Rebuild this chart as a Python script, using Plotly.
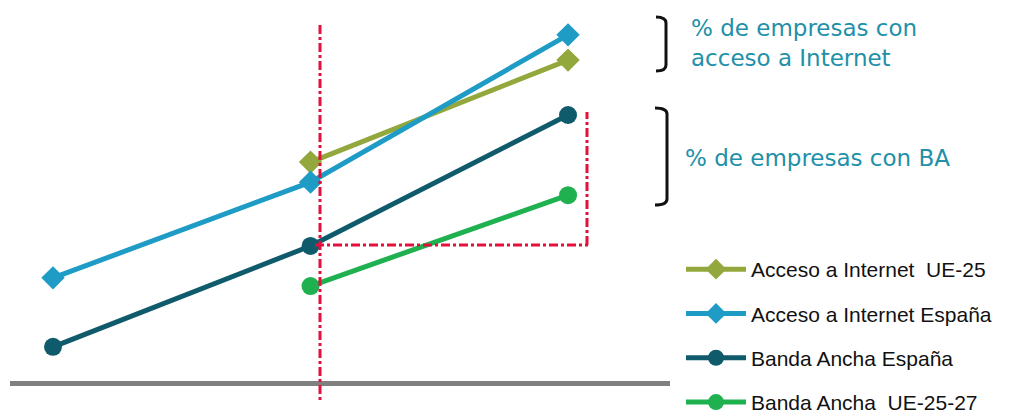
import plotly.graph_objects as go

# ---- data (schematic values) ----
periods = [2003, 2005, 2007]
internet_ue25 = [None, 59.0, 86.5]
internet_espana = [27.8, 53.6, 93.3]
banda_ancha_espana = [9.2, 36.4, 71.7]
banda_ancha_ue = [None, 25.6, 50.1]

series_names = ["Acceso a Internet  UE-25", "Acceso a Internet España",
                "Banda Ancha España", "Banda Ancha  UE-25-27"]

# page body has an 8px margin, so the figure is sized to what remains visible
OFF = 8
W, H = 1010 - OFF, 415 - OFF
X_L, X_R, Y_T, Y_B = 10, 670, 10, 381      # plot area in window pixels
ML, MR = X_L - OFF, W - (X_R - OFF)
MT, MB = Y_T - OFF, H - (Y_B - OFF)
PW, PH = X_R - X_L, Y_B - Y_T


def px(xw):
    return (xw - X_L) / PW


def py(yw):
    return (Y_B - yw) / PH


fig = go.Figure()
styles = [
    (internet_ue25, "#93a83c", "diamond"),
    (internet_espana, "#1e9cc6", "diamond"),
    (banda_ancha_espana, "#0f5b6c", "circle"),
    (banda_ancha_ue, "#1fb050", "circle"),
]
for i, (vals, col, sym) in enumerate(styles):
    fig.add_trace(go.Scatter(
        x=periods, y=vals, name=series_names[i], mode="lines+markers",
        line=dict(color=col, width=5),
        marker=dict(symbol=sym, size=18, color=col),
        legendgroup=f"g{i}", connectgaps=False,
    ))

red = "#e2103c"
shapes = [
    dict(type="line", xref="paper", yref="paper", x0=px(320), x1=px(320),
         y0=py(25), y1=py(400), line=dict(color=red, width=3, dash="dashdot")),
    dict(type="line", xref="paper", yref="paper", x0=px(315), x1=px(588),
         y0=py(245), y1=py(245), line=dict(color=red, width=3, dash="dashdot")),
    dict(type="line", xref="paper", yref="paper", x0=px(587), x1=px(587),
         y0=py(245), y1=py(112), line=dict(color=red, width=3, dash="dashdot")),
]


def bracket(xl, xr, yt, yb):
    return (f"M {px(xl)},{py(yt)} Q {px(xr)},{py(yt)} {px(xr)},{py(yt+6)} "
            f"L {px(xr)},{py(yb-6)} Q {px(xr)},{py(yb)} {px(xl)},{py(yb)}")


for (xl, xr, yt, yb) in [(656, 666, 17, 71), (655, 667, 108, 205)]:
    shapes.append(dict(type="path", xref="paper", yref="paper",
                       path=bracket(xl, xr, yt, yb),
                       line=dict(color="#111111", width=3)))

teal = "#2190a8"
annotations = [
    dict(xref="paper", yref="paper", x=px(689), y=py(43), xanchor="left",
         yanchor="middle", align="left", showarrow=False,
         text="% de empresas con<br>acceso a Internet",
         font=dict(family="DejaVu Sans", size=23, color=teal)),
    dict(xref="paper", yref="paper", x=px(683), y=py(158), xanchor="left",
         yanchor="middle", align="left", showarrow=False,
         text="% de empresas con BA",
         font=dict(family="DejaVu Sans", size=23, color=teal)),
]

fig.update_layout(
    width=W, height=H,
    margin=dict(l=ML, r=MR, t=MT, b=MB, autoexpand=False),
    paper_bgcolor="white", plot_bgcolor="white",
    shapes=shapes, annotations=annotations,
    showlegend=True,
    legend=dict(x=px(681), y=py(249), xanchor="left", yanchor="top",
                font=dict(family="Liberation Sans", size=21, color="#111111"),
                itemwidth=60, tracegroupgap=14, bgcolor="rgba(0,0,0,0)"),
    xaxis=dict(range=[2003 - 0.334, 2007 + 0.792], showgrid=False,
               zeroline=False, showticklabels=False, ticks="", showline=True,
               linecolor="#808080", linewidth=5),
    yaxis=dict(range=[0, 100], showgrid=False, zeroline=False,
               showticklabels=False, ticks="", showline=False),
)

fig.write_html("out.html")
